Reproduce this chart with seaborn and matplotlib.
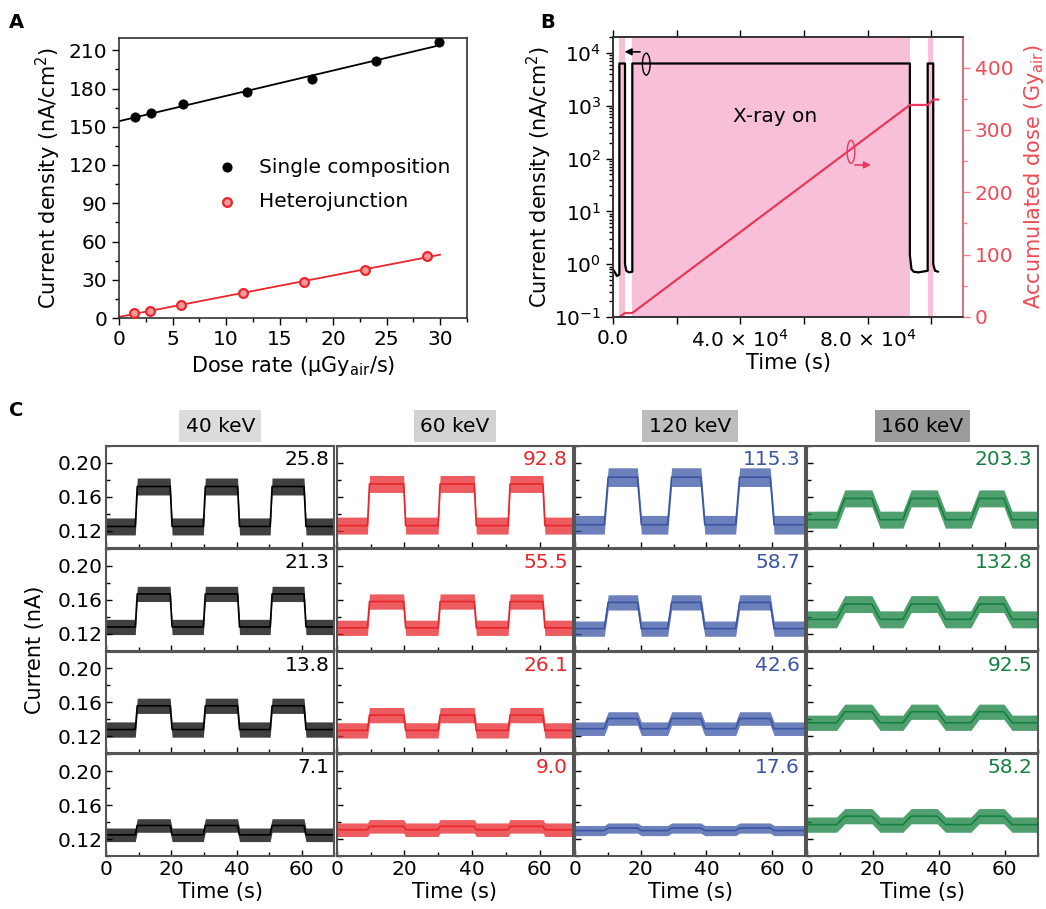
import numpy as np
import pandas as pd
import seaborn as sns
import matplotlib.pyplot as plt
from matplotlib.patches import Ellipse
from matplotlib.ticker import MultipleLocator, LogLocator, NullFormatter

# ---- panel A : current density vs dose rate
dose_single = [1.5, 3.0, 6.0, 12.0, 18.0, 24.0, 29.9]
j_single = [157.5, 160.6, 168.1, 177.2, 187.4, 201.3, 216.1]
dose_hetero = [1.43, 2.9, 5.78, 11.55, 17.26, 22.97, 28.72]
j_hetero = [3.6, 5.7, 10.5, 19.4, 28.0, 37.8, 48.5]

# ---- panel B : long-term stability
t_j = [0, 600, 1200, 1800, 2000, 2000, 3770, 3770, 4200, 5000, 6070, 6070,
       93300, 93300, 93800, 94500, 96000, 98900, 98900, 100650, 100650, 101200, 102200]
j_b = [0.8, 0.7, 0.6, 0.62, 0.65, 6300, 6300, 1.0, 0.75, 0.7, 0.72, 6300,
       6300, 1.5, 0.8, 0.72, 0.7, 0.75, 6300, 6300, 1.0, 0.75, 0.72]
t_dose = [0, 2000, 3770, 6070, 93300, 98900, 100650, 102300]
acc_dose = [0, 0, 6.4, 6.4, 340, 340, 348.7, 348.7]
xray_on = [(2000, 3770), (6070, 93300), (98900, 100650)]

# ---- panel C : on/off response at different energies
energies = ['40 keV', '60 keV', '120 keV', '160 keV']
header_colors = ['#DCDCDC', '#D2D2D2', '#BDBDBD', '#9B9B9B']
trace_colors = ['black', '#E8262B', '#3B55A5', '#14813E']
sensitivity = [[25.8, 92.8, 115.3, 203.3],
               [21.3, 55.5, 58.7, 132.8],
               [13.8, 26.1, 42.6, 92.5],
               [7.1, 9.0, 17.6, 58.2]]
# switching times (s) of each column: rise, fall, rise, fall, rise, fall
edges = [[9.2, 19.9, 30.1, 40.6, 50.6, 61.0],
         [9.4, 20.1, 30.3, 41.0, 51.0, 61.3],
         [9.5, 19.6, 28.8, 38.9, 49.5, 60.0],
         [10.3, 21.0, 30.4, 40.8, 51.0, 61.0]]
edge_time = [0.6, 0.6, 1.2, 2.5]
off_level = [[0.125, 0.126, 0.127, 0.133],
             [0.128, 0.127, 0.126, 0.137],
             [0.128, 0.127, 0.129, 0.136],
             [0.125, 0.131, 0.130, 0.137]]
on_level = [[0.172, 0.175, 0.183, 0.158],
            [0.167, 0.158, 0.157, 0.155],
            [0.156, 0.145, 0.141, 0.149],
            [0.136, 0.135, 0.133, 0.147]]
noise = [[0.010, 0.010, 0.011, 0.010],
         [0.009, 0.009, 0.009, 0.010],
         [0.009, 0.009, 0.008, 0.009],
         [0.008, 0.008, 0.006, 0.009]]

W, H = 1046, 909


def rect(l, t, r, b):
    return [l / W, 1 - b / H, (r - l) / W, (b - t) / H]


sns.set_theme(style='ticks')
plt.rcParams['font.family'] = ['DejaVu Sans']
plt.rcParams['axes.linewidth'] = 1.2
plt.rcParams['axes.edgecolor'] = '#333333'
for k in ['text.color', 'axes.labelcolor', 'xtick.color', 'ytick.color']:
    plt.rcParams[k] = 'black'

fig = plt.figure(figsize=(W / 100, H / 100), dpi=100)

# ================= A
axA = fig.add_axes(rect(119, 37.5, 467, 318))
sns.lineplot(x=[0, 30], y=np.polyval(np.polyfit(dose_single, j_single, 1), [0, 30]),
             color='black', lw=1.3, ax=axA)
sns.lineplot(x=[0, 30], y=np.polyval(np.polyfit(dose_hetero, j_hetero, 1), [0, 30]),
             color='#E8262B', lw=1.3, ax=axA)
sns.scatterplot(x=dose_single, y=j_single, color='black', s=45, edgecolor='black',
                label='Single composition', ax=axA, zorder=3)
sns.scatterplot(x=dose_hetero, y=j_hetero, color='#F49A9A', s=40, edgecolor='#E8262B',
                linewidth=1.6, label='Heterojunction', ax=axA, zorder=3)
axA.set_xlim(0, 32.5)
axA.set_ylim(0, 220)
axA.xaxis.set_major_locator(MultipleLocator(5))
axA.xaxis.set_minor_locator(MultipleLocator(2.5))
axA.yaxis.set_major_locator(MultipleLocator(30))
axA.yaxis.set_minor_locator(MultipleLocator(15))
axA.tick_params(which='both', direction='out', labelsize=14.5, width=1)
axA.tick_params(which='major', length=5)
axA.tick_params(which='minor', length=3)
axA.set_xlabel('Dose rate (μGy$_{\\mathrm{air}}$/s)', fontsize=15, labelpad=4)
axA.set_ylabel('Current density (nA/cm$^2$)', fontsize=15, labelpad=4)
axA.legend(loc='upper left', bbox_to_anchor=(0.23, 0.60), frameon=False, fontsize=14.5,
           handletextpad=0.6, labelspacing=0.75, borderaxespad=0)

# ================= B
axB = fig.add_axes(rect(613, 37, 963, 317))
for a, b in xray_on:
    axB.axvspan(a, b, color='#F7BFD8', lw=0, zorder=0)
sns.lineplot(x=t_j, y=j_b, color='black', lw=1.6, estimator=None, sort=False, ax=axB)
axB.set_yscale('log')
axB.set_ylim(0.1, 2e4)
axB.set_xlim(0, 1.1e5)
axB.set_xticks([0, 2e4, 4e4, 6e4, 8e4, 1e5])
axB.set_xticklabels(['0.0', '', '4.0 × 10$^4$', '', '8.0 × 10$^4$', ''])
axB.yaxis.set_major_locator(LogLocator(base=10, numticks=10))
axB.yaxis.set_minor_locator(LogLocator(base=10, subs=np.arange(2, 10), numticks=10))
axB.yaxis.set_minor_formatter(NullFormatter())
axB.tick_params(which='both', direction='out', labelsize=14.5, width=1)
axB.tick_params(axis='x', which='both', top=True)
axB.tick_params(which='major', length=5)
axB.tick_params(which='minor', length=3)
axB.set_xlabel('Time (s)', fontsize=15, labelpad=2)
axB.set_ylabel('Current density (nA/cm$^2$)', fontsize=15, labelpad=0)

axD = axB.twinx()
sns.lineplot(x=t_dose, y=acc_dose, color='#E8365E', lw=1.6, estimator=None, sort=False, ax=axD)
axD.set_ylim(0, 449)
axD.yaxis.set_major_locator(MultipleLocator(100))
axD.yaxis.set_minor_locator(MultipleLocator(50))
red_axis = '#F04A55'
axD.spines['right'].set_color('#F27A85')
axD.tick_params(axis='y', which='both', colors='#F27A85', labelcolor=red_axis,
                labelsize=14.5, direction='out', width=1)
axD.tick_params(which='major', length=5)
axD.tick_params(which='minor', length=3)
axD.set_ylabel('Accumulated dose (Gy$_{\\mathrm{air}}$)', fontsize=15, color=red_axis, labelpad=6)

axB.text(0.463, 0.715, 'X-ray on', transform=axB.transAxes, fontsize=14.5,
         ha='center', va='center')
axB.add_patch(Ellipse((0.095, 0.903), 0.022, 0.078, transform=axB.transAxes,
                      fill=False, ec='black', lw=1))
axB.annotate('', xy=(0.025, 0.947), xytext=(0.085, 0.947), xycoords='axes fraction',
             arrowprops=dict(arrowstyle='-|>', color='black', lw=1.2, mutation_scale=10))
axB.add_patch(Ellipse((0.68, 0.59), 0.022, 0.082, transform=axB.transAxes,
                      fill=False, ec='#E8365E', lw=1, zorder=5))
axB.annotate('', xy=(0.745, 0.543), xytext=(0.683, 0.543), xycoords='axes fraction',
             arrowprops=dict(arrowstyle='-|>', color='#E8365E', lw=1.2, mutation_scale=10))

# ================= C
col_l = [106.3, 336.7, 575, 806.7]
col_r = [334.3, 573.3, 805, 1037.7]
row_t = [445.7, 549, 651.5, 754.3]
row_b = [547.7, 650.7, 753.3, 856]

for i in range(4):
    for j in range(4):
        ax = fig.add_axes(rect(col_l[j], row_t[i], col_r[j], row_b[i]))
        off, on, dur = off_level[i][j], on_level[i][j], edge_time[j]
        t, y = [0], [off]
        for k, e in enumerate(edges[j]):
            lo, hi = (off, on) if k % 2 == 0 else (on, off)
            t += [e - dur / 2, e + dur / 2]
            y += [lo, hi]
        t.append(70)
        y.append(off)
        y = np.array(y)
        c = trace_colors[j]
        ax.fill_between(t, y - noise[i][j], y + noise[i][j], color=c, alpha=0.75, lw=0)
        sns.lineplot(x=t, y=y, color=c, lw=1.2, estimator=None, sort=False, ax=ax)
        ax.set_xlim(0, 70)
        ax.set_ylim(0.10, 0.22)
        ax.yaxis.set_major_locator(MultipleLocator(0.04))
        ax.yaxis.set_minor_locator(MultipleLocator(0.02))
        ax.set_yticks([0.12, 0.16, 0.20])
        ax.xaxis.set_major_locator(MultipleLocator(20))
        ax.xaxis.set_minor_locator(MultipleLocator(10))
        for s in ax.spines.values():
            s.set_color('#555555')
            s.set_linewidth(1.5)
        ax.tick_params(which='both', direction='in', width=1, labelsize=14.5, pad=3)
        ax.tick_params(which='major', length=4)
        ax.tick_params(which='minor', length=3)
        ax.tick_params(axis='x', labelbottom=(i == 3))
        if j == 0:
            ax.yaxis.set_major_formatter(plt.FuncFormatter(lambda v, p: f'{v:.2f}'))
        else:
            ax.tick_params(axis='y', labelleft=False)
        if i == 3:
            ax.set_xlabel('Time (s)', fontsize=15, labelpad=2)
        ax.text(0.978, 0.96, f'{sensitivity[i][j]:.1f}', transform=ax.transAxes,
                ha='right', va='top', fontsize=14.5, color=c)
        if i == 0:
            ax.text(0.5, 1.19, energies[j], transform=ax.transAxes, ha='center',
                    va='center', fontsize=14.5,
                    bbox=dict(boxstyle='square,pad=0.32', fc=header_colors[j], ec='none'))

fig.text(35 / W, 1 - 650 / H, 'Current (nA)', rotation=90, fontsize=15,
         ha='center', va='center')

for lab, x, y in [('A', 16, 22), ('B', 548, 22), ('C', 16, 410)]:
    fig.text(x / W, 1 - y / H, lab, fontsize=14, weight='bold', ha='center', va='center')

fig.savefig('out.png', dpi=100)
